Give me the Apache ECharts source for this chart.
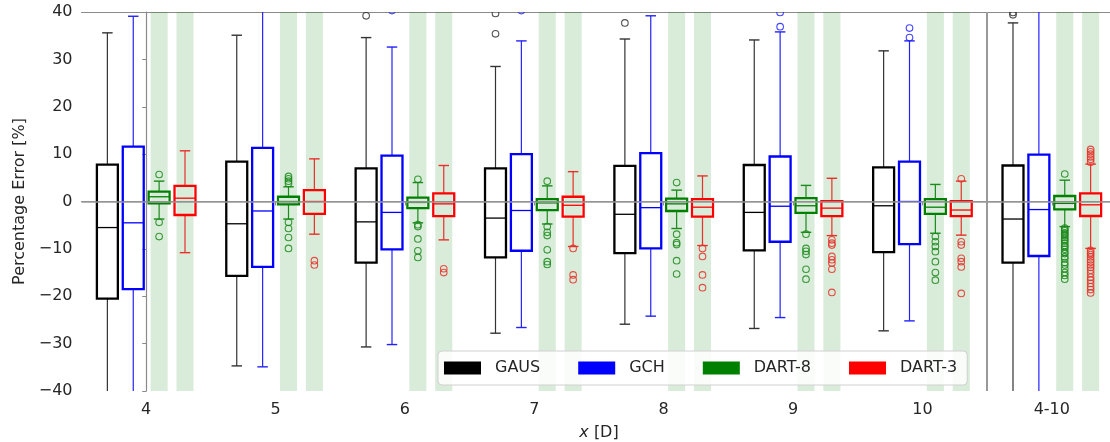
<!DOCTYPE html>
<html><head><meta charset="utf-8">
<script src="https://cdn.jsdelivr.net/npm/echarts@6/dist/echarts.min.js"></script>
<style>html,body{margin:0;padding:0;background:#fff}#c{width:1110px;height:442px}</style>
</head><body><div id="c"></div>
<script>
// ---------- DATA ----------
const categories = ['4', '5', '6', '7', '8', '9', '10', '4-10'];
const methods = ['GAUS', 'GCH', 'DART-8', 'DART-3'];
const yTicks = [-40, -30, -20, -10, 0, 10, 20, 30, 40];

// per group: [whisker low, Q1, median, Q3, whisker high]
const gausStats = [
  [-45, -20.5, -5.5, 7.8, 35.6],
  [-34.7, -15.7, -4.7, 8.4, 35.1],
  [-30.7, -12.9, -4.3, 7.0, 34.6],
  [-27.8, -11.8, -3.5, 7.0, 28.5],
  [-25.9, -10.9, -2.7, 7.5, 34.3],
  [-26.8, -10.3, -2.3, 7.7, 34.1],
  [-27.3, -10.7, -0.9, 7.2, 31.8],
  [-45, -12.9, -3.7, 7.6, 37.7]
];
const gchStats = [
  [-45, -18.5, -4.5, 11.6, 39.1],
  [-34.9, -13.8, -2.0, 11.3, 45],
  [-30.2, -10.1, -2.3, 9.7, 32.6],
  [-26.6, -10.4, -1.9, 10.0, 33.9],
  [-24.2, -9.9, -1.3, 10.2, 39.2],
  [-24.5, -8.5, -1.0, 9.5, 35.8],
  [-25.2, -9.0, 0.0, 8.4, 33.9],
  [-45, -11.5, -1.7, 9.9, 45]
];
const dart8Stats = [
  [-3.7, -0.4, 1.0, 2.1, 4.3],
  [-3.7, -0.6, 0.0, 1.0, 3.1],
  [-4.5, -1.4, -0.2, 0.8, 4.0],
  [-4.75, -1.8, -0.3, 0.5, 3.3],
  [-5.7, -2.0, -0.5, 0.6, 2.4],
  [-6.5, -2.4, -0.9, 0.7, 3.4],
  [-6.7, -2.6, -1.2, 0.5, 3.6],
  [-5.3, -1.65, -0.4, 1.16, 4.5]
];
const dart3Stats = [
  [-10.8, -2.85, 0.7, 3.3, 10.7],
  [-6.9, -2.6, 0.0, 2.4, 9.0],
  [-8.1, -3.1, -0.5, 1.7, 7.6],
  [-9.5, -3.2, -0.8, 1.0, 6.3],
  [-9.3, -3.2, -1.2, 0.5, 5.4],
  [-7.2, -3.1, -1.4, 0.1, 4.9],
  [-7.1, -3.1, -1.8, 0.1, 4.3],
  [-9.9, -3.06, -0.7, 1.7, 7.9]
];

// outliers per group
const gausOutliers = [[], [], [39.2], [39.7, 35.4], [37.7], [], [], [39.4, 39.9]];
const gchOutliers = [[], [], [40.3], [40.3], [], [39.9, 36.9], [36.6, 34.6], []];
const dart8Outliers = [
  [5.7, -4.4, -7.4],
  [5.3, 4.8, 4.3, 3.8, -4.4, -5.7, -7.6, -9.9],
  [4.7, -4.9, -5.3, -7.9, -10.4, -11.8],
  [4.3, -5.3, -6.5, -7.2, -10.2, -12.7, -13.3],
  [4.0, -6.9, -8.7, -9.1, -12.5, -15.3],
  [-6.9, -9.9, -10.5, -11.2, -14.3, -16.4],
  [-7.4, -8.5, -9.5, -10.6, -12.7, -15.0, -16.6],
  [5.8, -5.6, -5.9, -6.2, -6.6, -6.9, -7.2, -7.6, -8.0, -8.3, -8.8, -9.3, -9.6, -10.1, -10.7, -11.0, -11.7, -12.1, -12.9, -13.4, -14.2, -15.0, -15.6, -16.4]
];
const dart3Outliers = [
  [],
  [-12.5, -13.4],
  [-14.2, -15.0],
  [-9.9, -15.5, -16.5],
  [-9.9, -11.6, -15.5, -18.2],
  [-8.1, -8.8, -9.2, -11.6, -12.3, -13.0, -14.3, -19.2],
  [4.8, -8.5, -9.2, -12.0, -12.7, -13.8, -19.4],
  [8.3, 8.9, 9.4, 10.0, 10.5, 11.0, -10.3, -10.8, -11.2, -11.7, -12.3, -12.8, -13.4, -13.9, -14.5, -15.2, -16.0, -16.6, -17.3, -18.0, -18.6, -19.3]
];

// ---------- STYLE ----------
const colors = ['#000000', '#0000ff', '#008000', '#ff0000'];
const whiskerColors = ['#333333', '#2222ff', '#1a8a1a', '#e8302a'];
const offsets = [-0.3, -0.1, 0.1, 0.3];
const BOX_W = 0.162;
const BAND_W = 0.132;
const allStats = [gausStats, gchStats, dart8Stats, dart3Stats];
const allOutliers = [gausOutliers, gchOutliers, dart8Outliers, dart3Outliers];

function boxRender(mi) {
  return function (params, api) {
    const x = api.value(0);
    const lo = api.value(1), q1 = api.value(2), med = api.value(3), q3 = api.value(4), hi = api.value(5);
    const h = BOX_W / 2, c = BOX_W / 4;
    const p = (a, b) => api.coord([a, b]);
    const col = colors[mi], wc = whiskerColors[mi];
    const tl = p(x - h, q3), br = p(x + h, q1);
    const line = (a, b, color, w) => ({ type: 'line', shape: { x1: a[0], y1: a[1], x2: b[0], y2: b[1] }, style: { stroke: color, lineWidth: w, fill: null } });
    return {
      type: 'group',
      children: [
        line(p(x, q1), p(x, lo), wc, 1.2),
        line(p(x, q3), p(x, hi), wc, 1.2),
        line(p(x - c, lo), p(x + c, lo), wc, 1.4),
        line(p(x - c, hi), p(x + c, hi), wc, 1.4),
        { type: 'rect', shape: { x: tl[0], y: tl[1], width: br[0] - tl[0], height: br[1] - tl[1] }, style: { stroke: col, lineWidth: 2.3, fill: null } },
        line(p(x - h, med), p(x + h, med), col, 1.3)
      ]
    };
  };
}
function outlierRender(mi) {
  return function (params, api) {
    const pt = api.coord([api.value(0), api.value(1)]);
    return { type: 'circle', shape: { cx: pt[0], cy: pt[1], r: 3.3 }, style: { stroke: whiskerColors[mi], lineWidth: 1.1, fill: null, opacity: 0.85 } };
  };
}

const series = [];
// green bands
const bandData = [];
categories.forEach((c, gi) => { bandData.push([gi + offsets[2]]); bandData.push([gi + offsets[3]]); });
series.push({
  type: 'custom', name: 'bands', xAxisIndex: 1, yAxisIndex: 0, silent: true, z: 1, clip: true,
  data: bandData,
  encode: { x: 0 },
  renderItem: function (params, api) {
    const x = api.value(0);
    const a = api.coord([x - BAND_W / 2, 40]), b = api.coord([x + BAND_W / 2, -40]);
    return { type: 'rect', shape: { x: a[0], y: a[1], width: b[0] - a[0], height: b[1] - a[1] }, style: { fill: 'rgba(0,128,0,0.15)' } };
  },
  markLine: {
    silent: true, symbol: 'none', label: { show: false },
    data: [
      { yAxis: 0, lineStyle: { color: '#999', width: 1.6, type: 'solid' } },
      { xAxis: 6.5, lineStyle: { color: '#999', width: 2, type: 'solid' } }
    ]
  }
});
methods.forEach((m, mi) => {
  const data = allStats[mi].map((s, gi) => [gi + offsets[mi]].concat(s));
  series.push({
    type: 'custom', name: m, xAxisIndex: 1, yAxisIndex: 0, z: 3, clip: true,
    itemStyle: { color: colors[mi] },
    data: data, encode: { x: 0, y: [1, 2, 3, 4, 5] },
    renderItem: boxRender(mi)
  });
  const od = [];
  allOutliers[mi].forEach((arr, gi) => arr.forEach(v => od.push([gi + offsets[mi], v])));
  series.push({
    type: 'custom', name: m + ' outliers', xAxisIndex: 1, yAxisIndex: 0, z: 4, clip: true,
    data: od, encode: { x: 0, y: 1 }, renderItem: outlierRender(mi)
  });
});

const textColor = '#262626';
const axisColor = '#8a8a8a';
const option = {
  animation: false,
  backgroundColor: '#fff',
  textStyle: { fontFamily: 'DejaVu Sans' },
  grid: { left: 81.5, width: 1035, top: 12, bottom: 51, containLabel: false, outerBoundsMode: 'none' },
  legend: {
    left: 438, top: 351,
    data: methods.map((m, i) => ({ name: m, icon: 'rect', itemStyle: { color: colors[i] } })),
    itemWidth: 37, itemHeight: 13, itemGap: 38,
    selectedMode: false,
    padding: [9, 10, 9, 6],
    backgroundColor: 'rgba(255,255,255,0.85)',
    borderColor: '#d0d0d0', borderWidth: 1, borderRadius: 4,
    textStyle: { fontSize: 16, color: textColor, fontFamily: 'DejaVu Sans', padding: [0, 0, 0, 9] }
  },
  xAxis: [
    {
      type: 'category', data: categories, position: 'bottom', boundaryGap: true,
      axisLine: { show: true, lineStyle: { color: axisColor, width: 1.2 } },
      axisTick: { show: true, alignWithLabel: true, length: 4, lineStyle: { color: axisColor } },
      axisLabel: { fontSize: 16, color: textColor, margin: 11, fontFamily: 'DejaVu Sans' },
      splitLine: { show: false },
      name: '{i|x} [D]', nameLocation: 'middle', nameGap: 34,
      nameTextStyle: { fontSize: 16, color: textColor, fontFamily: 'DejaVu Sans', rich: { i: { fontStyle: 'italic', fontSize: 16, color: textColor, fontFamily: 'DejaVu Sans' } } }
    },
    {
      type: 'value', min: -0.5, max: 7.5, position: 'top',
      axisLine: { show: true, onZero: false, lineStyle: { color: axisColor, width: 1.2 } },
      axisTick: { show: false }, axisLabel: { show: false }, splitLine: { show: false }
    }
  ],
  yAxis: [{
    type: 'value', min: yTicks[0], max: yTicks[yTicks.length - 1], interval: 10,
    axisLine: { show: true, lineStyle: { color: axisColor, width: 1.2 } },
    axisTick: { show: true, length: 4, lineStyle: { color: axisColor } },
    axisLabel: { fontSize: 16, color: textColor, margin: 9, fontFamily: 'DejaVu Sans', formatter: v => v < 0 ? '\u2212' + (-v) : String(v) },
    splitLine: { show: false },
    name: 'Percentage Error [%]', nameLocation: 'middle', nameGap: 54, nameRotate: 90,
    nameTextStyle: { fontSize: 16, color: textColor, fontFamily: 'DejaVu Sans' }
  }],
  series: series
};
const chart = echarts.init(document.getElementById('c'), null, { renderer: 'canvas' });
chart.setOption(option);
</script></body></html>
